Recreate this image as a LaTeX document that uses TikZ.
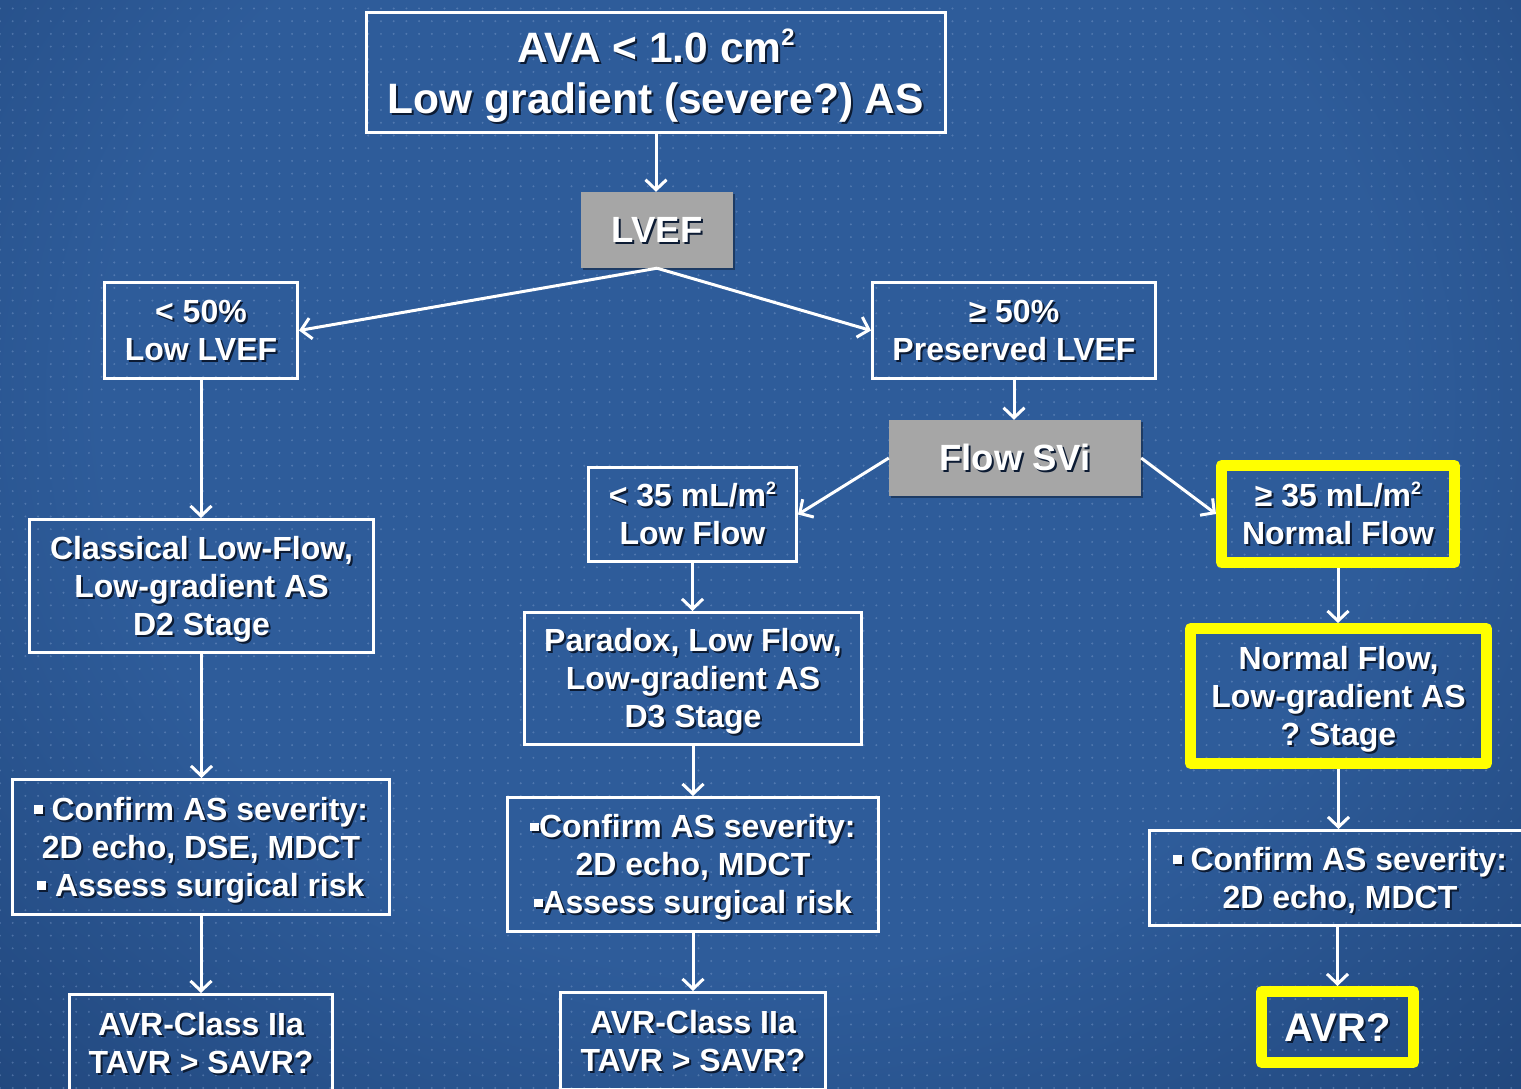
\documentclass[tikz,border=0pt]{standalone}
\usepackage{fontspec}
\usepackage{graphicx}
\setmainfont{Liberation Sans}
\frenchspacing
\usetikzlibrary{arrows.meta,shadows,patterns.meta}

\definecolor{bgin}{HTML}{2E5C9A}
\definecolor{bgout}{HTML}{153361}
\definecolor{dotc}{HTML}{7C9CCB}
\definecolor{txtshadow}{HTML}{0C1B33}
\definecolor{boxgray}{HTML}{A6A6A6}
\definecolor{hiyellow}{HTML}{FFFF00}

% soft glow behind the whole slide
\pgfdeclareradialshading{bgglow}{\pgfpoint{0bp}{0bp}}{color(0bp)=(bgin); color(13bp)=(bgin); color(31bp)=(bgout); color(50bp)=(bgout)}

% white text with a dark drop shadow; the strut (0.94em up, 0.23em down)
% gives every line the same size so that capitals sit centred in the box
\newcommand\shd[1]{\rlap{\smash{\kern2pt\raisebox{-2pt}{\textcolor{txtshadow}{#1}}}}#1\rule[-0.23em]{0pt}{1.17em}}
% small square bullet
\newcommand\sqb{\raisebox{0.2em}{\rule{0.27em}{0.27em}}}
% raised small two (square units)
\newcommand\sqtwo{\raisebox{0.38em}{\scalebox{0.56}{2}}}

\tikzset{
  every node/.style={text=white, font=\bfseries\fontsize{32}{38}\selectfont,
    align=center, inner sep=0pt},
  wbox/.style={draw=white, line width=3pt, rectangle},
  ybox/.style={draw=hiyellow, line width=11pt, line join=round, rectangle},
  gbox/.style={fill=boxgray, rectangle,
    drop shadow={shadow xshift=2pt, shadow yshift=-2pt, opacity=0.35, fill=black}},
  conn/.style={draw=white, line width=3pt,
    -{Straight Barb[length=10pt,width=21pt]}},
  bigtext/.style={font=\bfseries\fontsize{42.5}{51}\selectfont},
  midtext/.style={font=\bfseries\fontsize{36.5}{43}\selectfont},
  avrtext/.style={font=\bfseries\fontsize{40}{48}\selectfont},
}

\begin{document}
\begin{tikzpicture}[x=1pt,y=-1pt]
\useasboundingbox (0,0) rectangle (1521,1088);
\begin{scope}
\clip (0,0) rectangle (1521,1088);

% background
\shade[shading=bgglow] (-500,-700) rectangle (2000,1500);
\fill[pattern={Dots[distance=12.7pt, radius=1.1pt]}, pattern color=dotc, opacity=0.45]
  (0,0) rectangle (1521,1088);

% top and decision boxes
\node[wbox, bigtext, minimum width=579pt, minimum height=120pt] (top) at (656,72.5)
  {\shd{AVA < 1.0 cm\sqtwo}\\\shd{Low gradient (severe?) AS}};
\node[gbox, midtext, minimum width=152pt, minimum height=76pt] (lvef) at (657,230)
  {\shd{LVEF}};
\node[wbox, minimum width=193pt, minimum height=96pt] (low) at (201,330.5)
  {\shd{< 50\%}\\\shd{Low LVEF}};
\node[wbox, minimum width=283pt, minimum height=96pt] (pres) at (1014,330.5)
  {\shd{≥ 50\%}\\\shd{Preserved LVEF}};
\node[gbox, midtext, minimum width=252pt, minimum height=76pt] (flow) at (1015,458)
  {\shd{Flow SVi}};
\node[wbox, minimum width=208pt, minimum height=94pt] (lowflow) at (692.5,514.5)
  {\shd{< 35 mL/m\sqtwo}\\\shd{Low Flow}};
\node[ybox, minimum width=233pt, minimum height=97pt] (normflow) at (1338,514)
  {\shd{≥ 35 mL/m\sqtwo}\\\shd{Normal Flow}};

% stage boxes
\node[wbox, minimum width=344pt, minimum height=133pt] (classic) at (201.5,586)
  {\shd{Classical Low-Flow,}\\\shd{Low-gradient AS}\\\shd{D2 Stage}};
\node[wbox, minimum width=337pt, minimum height=132pt] (paradox) at (693,678.5)
  {\shd{Paradox, Low Flow,}\\\shd{Low-gradient AS}\\\shd{D3 Stage}};
\node[ybox, minimum width=296pt, minimum height=135pt] (normlg) at (1338.5,696)
  {\shd{Normal Flow,}\\\shd{Low-gradient AS}\\\shd{? Stage}};

% work-up boxes
\node[wbox, minimum width=377pt, minimum height=135pt] (conf1) at (201,847)
  {\shd{\sqb\ Confirm AS severity:}\\\shd{2D echo, DSE, MDCT}\\\shd{\sqb\ Assess surgical risk}};
\node[wbox, minimum width=371pt, minimum height=134pt] (conf2) at (693,864.5)
  {\shd{\sqb Confirm AS severity:}\\\shd{2D echo, MDCT}\\\shd{\sqb Assess surgical risk}};
\node[wbox, minimum width=381pt, minimum height=95pt] (conf3) at (1340,878)
  {\shd{\sqb\ Confirm AS severity:}\\\shd{2D echo, MDCT}};

% treatment boxes
\node[wbox, minimum width=263pt, minimum height=97pt] (avr1) at (201,1043)
  {\shd{AVR-Class IIa}\\\shd{TAVR > SAVR?}};
\node[wbox, minimum width=265pt, minimum height=97pt] (avr2) at (693,1041)
  {\shd{AVR-Class IIa}\\\shd{TAVR > SAVR?}};
\node[ybox, avrtext, minimum width=152pt, minimum height=71pt] (avr3) at (1337.5,1027)
  {\shd{AVR?}};

% connectors
\draw[conn] (top.south) -- (top.south |- lvef.north);
\draw[conn] (lvef.south) -- (low.east);
\draw[conn] (lvef.south) -- (pres.west);
\draw[conn] (pres.south) -- (pres.south |- flow.north);
\draw[conn] (flow.west) -- (lowflow.east);
\draw[conn] (flow.east) -- (normflow.west);

\draw[conn] (low.south) -- (low.south |- classic.north);
\draw[conn] (classic.south) -- (classic.south |- conf1.north);
\draw[conn] (conf1.south) -- (conf1.south |- avr1.north);

\draw[conn] (lowflow.south) -- (lowflow.south |- paradox.north);
\draw[conn] (paradox.south) -- (paradox.south |- conf2.north);
\draw[conn] (conf2.south) -- (conf2.south |- avr2.north);

\draw[conn] (normflow.south) -- (normflow.south |- normlg.north);
\draw[conn] (normlg.south) -- (normlg.south |- conf3.north);
\draw[conn] (conf3.south -| avr3.north) -- (avr3.north);
\end{scope}
\end{tikzpicture}
\end{document}
